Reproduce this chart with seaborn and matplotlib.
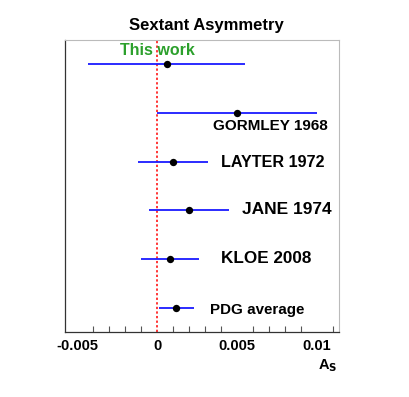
import matplotlib
matplotlib.use("Agg")
import matplotlib.pyplot as plt
import seaborn as sns
import pandas as pd
import numpy as np
from matplotlib.ticker import MultipleLocator

sns.set_style("white")
plt.rcParams['font.family'] = ['Liberation Sans', 'DejaVu Sans']
plt.rcParams['text.color'] = 'black'
plt.rcParams['xtick.color'] = 'black'

labels = ["This work", "GORMLEY 1968", "LAYTER 1972", "JANE 1974", "KLOE 2008", "PDG average"]
values = [0.0006, 0.0050, 0.0010, 0.0020, 0.0008, 0.0012]
errors = [0.0049, 0.0050, 0.0022, 0.0025, 0.0018, 0.0011]
positions = [0.5, 1.5, 2.5, 3.5, 4.5, 5.5]

df = pd.DataFrame({"label": labels, "value": values, "err": errors, "pos": positions})

fig = plt.figure(figsize=(4.09, 3.97), dpi=100)
ax = fig.add_axes([0.159, 0.164, 0.670, 0.735])

ax.errorbar(df["value"], df["pos"], xerr=df["err"], fmt="none", ecolor="#1a1aff",
            elinewidth=1.3, capsize=0, zorder=2)
sns.scatterplot(data=df, x="value", y="pos", color="black", s=28, edgecolor="black",
                linewidth=0, ax=ax, zorder=3, legend=False)

ax.axvline(0, color="red", linestyle=(0, (1.5, 1.5)), linewidth=1.1, zorder=1)

ax.set_xlim(-0.00575, 0.011375)
ax.set_ylim(6, 0)
ax.set_yticks([])
ax.xaxis.set_major_locator(MultipleLocator(0.005))
ax.xaxis.set_minor_locator(MultipleLocator(0.001))
ax.set_xticks([-0.005, 0, 0.005, 0.01])
ax.set_xticklabels(["-0.005", "0", "0.005", "0.01"], fontsize=10.5, fontweight="bold")
ax.tick_params(axis="x", which="major", direction="in", length=8, color="#555555",
               labelcolor="black", width=0.8, pad=5)
ax.tick_params(axis="x", which="minor", direction="in", length=4, color="#555555", width=0.8, bottom=True)
ax.set_xlabel("")
ax.set_ylabel("")

for s in ["top", "right"]:
    ax.spines[s].set_color("#bbbbbb")
    ax.spines[s].set_linewidth(0.8)
for s in ["left", "bottom"]:
    ax.spines[s].set_color("#333333")
    ax.spines[s].set_linewidth(0.9)

# annotations
ax.text(0.0, 0.22, labels[0], color="#2ca02c", fontsize=11.5, fontweight="bold",
        ha="center", va="center")
ax.text(0.01068, 1.77, labels[1], fontsize=11, fontweight="bold", ha="right", va="center")
ax.text(0.01044, 2.51, labels[2], fontsize=11.6, fontweight="bold", ha="right", va="center")
ax.text(0.01088, 3.49, labels[3], fontsize=12.5, fontweight="bold", ha="right", va="center")
ax.text(0.00963, 4.50, labels[4], fontsize=12.3, fontweight="bold", ha="right", va="center")
ax.text(0.00919, 5.55, labels[5], fontsize=10.9, fontweight="bold", ha="right", va="center")

fig.text(0.505, 0.937, "Sextant Asymmetry", fontsize=12, fontweight="bold", ha="center", va="center")
fig.text(0.80, 0.080, r"A$_\mathbf{S}$", fontsize=10.5, fontweight="bold", ha="center", va="center")

fig.savefig("out.png", dpi=100)
